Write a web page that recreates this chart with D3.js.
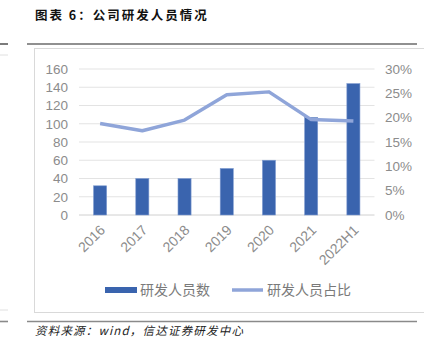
<!DOCTYPE html>
<html>
<head>
<meta charset="utf-8">
<script src="https://cdn.jsdelivr.net/npm/d3@7"></script>
<style>
  html, body { margin: 0; padding: 0; background: #fff; }
  svg { display: block; }
</style>
</head>
<body>
<div id="chart"></div>
<script>
const years = ["2016", "2017", "2018", "2019", "2020", "2021", "2022H1"];
const staffCount = [32, 40, 40, 51, 60, 107, 144];
const staffShare = [18.8, 17.3, 19.5, 24.7, 25.3, 19.6, 19.3];
const leftTicks = [0, 20, 40, 60, 80, 100, 120, 140, 160];
const rightTicks = [0, 5, 10, 15, 20, 25, 30];

const width = 424, height = 352;
const cjk = "'Noto Sans CJK SC', 'Noto Sans', sans-serif";
const axisColor = "#8c8c8c";
const barColor = "#3a64ae";
const lineColor = "#8fa5d9";

const svg = d3.select("#chart").append("svg")
  .attr("width", width).attr("height", height)
  .attr("viewBox", `0 0 ${width} ${height}`);

// page furniture
svg.append("text")
  .attr("x", 35).attr("y", 20)
  .attr("font-family", cjk).attr("font-weight", "bold")
  .attr("font-size", 12.5).attr("letter-spacing", 2)
  .attr("fill", "#111")
  .text("图表 6：公司研发人员情况");

svg.append("line").attr("x1", 27).attr("x2", 417).attr("y1", 44).attr("y2", 44)
  .attr("stroke", "#222").attr("stroke-width", 1.2);
svg.append("line").attr("x1", 0).attr("x2", 8).attr("y1", 44).attr("y2", 44)
  .attr("stroke", "#222").attr("stroke-width", 1.2);
svg.append("line").attr("x1", 0).attr("x2", 8).attr("y1", 55).attr("y2", 55)
  .attr("stroke", "#e0e0e0").attr("stroke-width", 1);
svg.append("line").attr("x1", 0).attr("x2", 8).attr("y1", 310).attr("y2", 310)
  .attr("stroke", "#e0e0e0").attr("stroke-width", 1);
svg.append("line").attr("x1", 0).attr("x2", 8).attr("y1", 321.5).attr("y2", 321.5)
  .attr("stroke", "#8a8a8a").attr("stroke-width", 1.6);

svg.append("rect")
  .attr("x", 34.5).attr("y", 48.5).attr("width", 400).attr("height", 264)
  .attr("fill", "none").attr("stroke", "#d9d9d9");

svg.append("line").attr("x1", 27).attr("x2", 417).attr("y1", 321.5).attr("y2", 321.5)
  .attr("stroke", "#8a8a8a").attr("stroke-width", 1.6);

svg.append("text")
  .attr("x", 35).attr("y", 335)
  .attr("font-family", cjk).attr("font-style", "italic")
  .attr("font-size", 11.5).attr("letter-spacing", 1.2)
  .attr("fill", "#222")
  .text("资料来源：wind，信达证券研发中心");

// scales
const x = d3.scaleBand().domain(years).range([79, 374.5]).paddingInner(0.69).paddingOuter(0.345);
const y = d3.scaleLinear().domain([0, 160]).range([215, 69]);
const y2 = d3.scaleLinear().domain([0, 30]).range([215, 69]);

// grid
svg.append("g")
  .selectAll("line")
  .data(leftTicks)
  .enter()
  .append("line")
  .attr("x1", 79).attr("x2", 374.5)
  .attr("y1", (d) => y(d)).attr("y2", (d) => y(d))
  .attr("stroke", (d) => (d === 0 ? "#d0d0d0" : "#e3e3e3"))
  .attr("stroke-width", 1);

// left axis
const leftAxis = svg.append("g")
  .attr("transform", "translate(68,0)")
  .call(d3.axisLeft(y).tickValues(leftTicks).tickSize(0).tickPadding(0));
leftAxis.select(".domain").remove();
leftAxis.selectAll("text")
  .attr("font-family", "'Liberation Sans', Arial, sans-serif")
  .attr("font-size", 13.5).attr("fill", axisColor);

// right axis
const rightAxis = svg.append("g")
  .attr("transform", "translate(385,0)")
  .call(d3.axisRight(y2).tickValues(rightTicks).tickSize(0).tickPadding(0).tickFormat((d) => d + "%"));
rightAxis.select(".domain").remove();
rightAxis.selectAll("text")
  .attr("font-family", "'Liberation Sans', Arial, sans-serif")
  .attr("font-size", 13.5).attr("fill", axisColor);

// bottom axis
const bottomAxis = svg.append("g")
  .attr("transform", "translate(0,215)")
  .call(d3.axisBottom(x).tickSize(0).tickPadding(0));
bottomAxis.select(".domain").remove();
bottomAxis.selectAll("text")
  .attr("font-family", "'Liberation Sans', Arial, sans-serif")
  .attr("font-size", 14).attr("fill", axisColor)
  .attr("text-anchor", "end")
  .attr("dy", null)
  .attr("transform", "translate(6,16) rotate(-45)");

// bars
svg.append("g")
  .selectAll("rect")
  .data(years)
  .enter()
  .append("rect")
  .attr("x", (d) => x(d))
  .attr("y", (d, i) => y(staffCount[i]))
  .attr("width", x.bandwidth())
  .attr("height", (d, i) => y(0) - y(staffCount[i]))
  .attr("fill", barColor)
  .attr("stroke", "#7f9bd0")
  .attr("stroke-width", 0.6);

// line
const line = d3.line()
  .x((d, i) => x(years[i]) + x.bandwidth() / 2)
  .y((d) => y2(d));
svg.append("path")
  .datum(staffShare)
  .attr("d", line)
  .attr("fill", "none")
  .attr("stroke", lineColor)
  .attr("stroke-width", 3.5)
  .attr("stroke-linejoin", "round");

// legend
const legend = svg.append("g").attr("font-family", cjk).attr("font-size", 14).attr("fill", "#7a7a7a");
legend.append("rect").attr("x", 105).attr("y", 287).attr("width", 32).attr("height", 6).attr("fill", barColor);
legend.append("text").attr("x", 140).attr("y", 295).text("研发人员数");
legend.append("line").attr("x1", 232).attr("x2", 263).attr("y1", 290).attr("y2", 290)
  .attr("stroke", lineColor).attr("stroke-width", 3.5);
legend.append("text").attr("x", 267).attr("y", 295).text("研发人员占比");
</script>
</body>
</html>
